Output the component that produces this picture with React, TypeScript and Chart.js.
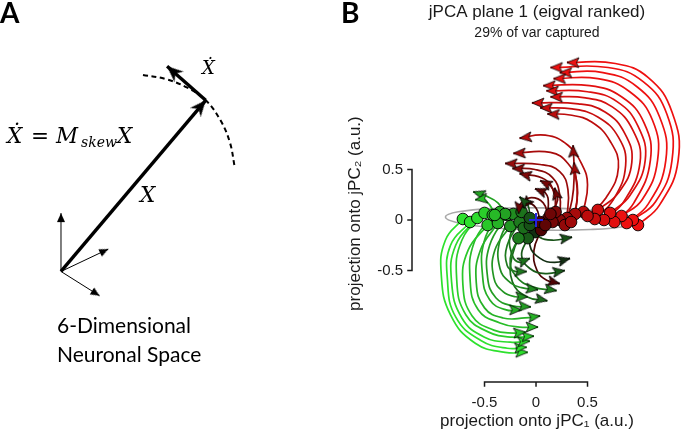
import React, { useEffect, useRef } from 'react';
import { Chart, registerables } from 'chart.js';

Chart.register(...registerables);
Chart.defaults.font.family = '"Liberation Sans", Arial, sans-serif';

type Pt = [number, number];

// ---------------- Panel B : jPCA plane 1 (projection values, a.u.) ----------------
const TITLE = 'jPCA plane 1 (eigval ranked)';
const SUBTITLE = '29% of var captured';
const X_TITLE = 'projection onto jPC\u2081 (a.u.)';
const Y_TITLE = 'projection onto jPC\u2082 (a.u.)';
const X_TICKS = [-0.5, 0, 0.5];
const Y_TICKS = [-0.5, 0, 0.5];
const X_TICK_LABELS = ['-0.5', '0', '0.5'];
const Y_TICK_LABELS = ['-0.5', '0', '0.5'];

const RED_ARCS: Pt[][] = [
  [[0.99, -0.05], [1.2, 0.15], [1.38, 0.59], [1.32, 1.07], [1.09, 1.41], [0.77, 1.55], [0.3, 1.56]],
  [[0.94, 0.0], [1.16, 0.18], [1.32, 0.59], [1.27, 1.05], [1.04, 1.37], [0.7, 1.51], [0.14, 1.51]],
  [[0.88, -0.03], [1.09, 0.16], [1.26, 0.59], [1.2, 1.02], [0.98, 1.32], [0.65, 1.46], [0.23, 1.46]],
  [[0.83, 0.04], [1.03, 0.2], [1.18, 0.59], [1.13, 0.99], [0.91, 1.27], [0.6, 1.4], [0.17, 1.4]],
  [[0.76, -0.02], [0.95, 0.17], [1.11, 0.59], [1.05, 0.96], [0.83, 1.22], [0.52, 1.33], [0.07, 1.33]],
  [[0.72, 0.07], [0.91, 0.24], [1.06, 0.59], [0.99, 0.93], [0.79, 1.17], [0.5, 1.27], [0.1, 1.28]],
  [[0.66, 0.0], [0.85, 0.18], [1.01, 0.57], [0.94, 0.89], [0.74, 1.12], [0.48, 1.21], [0.14, 1.22]],
  [[0.6, 0.1], [0.8, 0.27], [0.93, 0.57], [0.86, 0.86], [0.67, 1.07], [0.41, 1.15], [-0.04, 1.16]],
  [[0.57, 0.01], [0.75, 0.2], [0.87, 0.54], [0.8, 0.82], [0.6, 1.02], [0.35, 1.1], [0.04, 1.11]],
  [[0.5, 0.04], [0.68, 0.22], [0.8, 0.52], [0.72, 0.78], [0.54, 0.97], [0.33, 1.04], [0.11, 1.05]],
];

const DARK_RED_ARCS: Pt[][] = [
  [[0.46, 0.08], [0.5, 0.35], [0.45, 0.54], [0.31, 0.74], [0.09, 0.84], [-0.16, 0.81]],
  [[0.38, 0.06], [0.4, 0.35], [0.31, 0.56], [0.14, 0.67], [-0.22, 0.66]],
  [[0.3, 0.02], [0.31, 0.3], [0.23, 0.48], [0.04, 0.55], [-0.3, 0.56]],
  [[0.23, 0.0], [0.23, 0.25], [0.16, 0.42], [-0.01, 0.5], [-0.23, 0.51]],
  [[0.19, 0.08], [0.18, 0.25], [0.09, 0.4], [-0.16, 0.46]],
  [[0.16, -0.02], [0.19, 0.2], [0.14, 0.34], [0.04, 0.39]],
  [[0.09, -0.05], [0.12, 0.15], [0.09, 0.27], [-0.01, 0.31]],
  [[0.14, 0.06], [0.21, 0.2], [0.18, 0.32]],
  [[0.28, -0.05], [0.35, 0.2], [0.37, 0.45], [0.36, 0.74]],
  [[0.34, -0.02], [0.4, 0.2], [0.37, 0.57]],
];

const CENTER_LOOPS: Pt[][] = [
  [[0.12, 0.02], [0.07, 0.17], [-0.06, 0.22], [-0.16, 0.15], [-0.17, 0.06]],
  [[0.04, -0.02], [0.0, 0.12], [-0.09, 0.17], [-0.13, 0.12]],
  [[-0.06, 0.02], [-0.08, 0.15], [-0.16, 0.23]],
];

const DARK_DOWN: Pt[][] = [
  [[-0.01, -0.12], [-0.06, -0.25], [0.04, -0.38], [0.18, -0.42], [0.33, -0.38]],
  [[-0.08, -0.18], [-0.14, -0.35], [-0.06, -0.48], [0.09, -0.53], [0.28, -0.5]],
  [[0.05, -0.1], [-0.02, -0.3], [0.01, -0.5], [0.11, -0.6], [0.23, -0.63]],
  [[-0.17, -0.18], [-0.25, -0.38], [-0.2, -0.55], [-0.04, -0.66], [0.2, -0.7]],
  [[-0.12, -0.08], [-0.23, -0.35], [-0.23, -0.61], [-0.09, -0.76], [0.11, -0.8]],
  [[-0.06, -0.05], [0.02, -0.16], [0.16, -0.2], [0.35, -0.17]],
];

const GREEN_ARCS: Pt[][] = [
  [[-0.71, 0.01], [-0.88, -0.2], [-0.92, -0.54], [-0.83, -0.94], [-0.59, -1.22], [-0.3, -1.31], [-0.08, -1.31]],
  [[-0.64, -0.02], [-0.83, -0.25], [-0.86, -0.59], [-0.78, -0.96], [-0.54, -1.19], [-0.28, -1.27], [-0.09, -1.26]],
  [[-0.57, 0.02], [-0.78, -0.25], [-0.82, -0.61], [-0.72, -0.97], [-0.5, -1.16], [-0.25, -1.21], [-0.06, -1.2]],
  [[-0.5, 0.07], [-0.72, -0.2], [-0.77, -0.59], [-0.68, -0.94], [-0.46, -1.11], [-0.23, -1.16], [-0.02, -1.15]],
  [[-0.47, -0.05], [-0.66, -0.3], [-0.71, -0.64], [-0.62, -0.95], [-0.41, -1.09], [-0.22, -1.12], [-0.1, -1.11]],
  [[-0.42, 0.05], [-0.6, -0.22], [-0.64, -0.59], [-0.56, -0.89], [-0.35, -1.02], [-0.16, -1.06], [0.02, -1.06]],
  [[-0.37, -0.03], [-0.54, -0.3], [-0.58, -0.62], [-0.5, -0.87], [-0.32, -0.97], [-0.11, -0.97], [0.04, -0.95]],
  [[-0.35, 0.08], [-0.5, -0.2], [-0.52, -0.54], [-0.45, -0.79], [-0.29, -0.89], [-0.14, -0.89]],
  [[-0.28, 0.05], [-0.45, -0.25], [-0.47, -0.57], [-0.39, -0.77], [-0.23, -0.85], [-0.05, -0.86]],
  [[-0.25, -0.06], [-0.4, -0.3], [-0.41, -0.57], [-0.32, -0.71], [-0.2, -0.76], [-0.08, -0.76]],
  [[-0.22, 0.06], [-0.35, -0.2], [-0.35, -0.48], [-0.25, -0.62], [-0.14, -0.67], [0.02, -0.69]],
  [[-0.16, -0.02], [-0.28, -0.25], [-0.28, -0.45], [-0.2, -0.51], [-0.09, -0.51]],
  [[-0.14, 0.08], [-0.25, -0.15], [-0.23, -0.35], [-0.16, -0.42], [-0.06, -0.38]],
];

const GREEN_UP: Pt[][] = [
  [[-0.3, 0.06], [-0.37, 0.17], [-0.49, 0.24], [-0.61, 0.28]],
  [[-0.4, 0.05], [-0.45, 0.15], [-0.52, 0.21], [-0.59, 0.2]],
];

const REF_ELLIPSE: Pt[] = [
  [1.0, -0.01], [0.874, 0.049], [0.53, 0.096], [0.06, 0.12], [-0.41, 0.114], [-0.754, 0.081],
  [-0.88, 0.029], [-0.754, -0.029], [-0.41, -0.076], [0.06, -0.1], [0.53, -0.094], [0.874, -0.061], [1.0, -0.01],
];
const ORIGIN_MARK: Pt[] = [[0, 0]];

// ---------------- Panel A : schematic (diagram units) ----------------
const BASIS_ORIGIN: Pt = [0, 0];
const BASIS_TIPS: Pt[] = [[0, 0.6], [0.49, 0.23], [0.4, -0.25]];
const STATE_TIP: Pt = [1.5, 1.76];
const VELOCITY_TIP: Pt = [1.1, 2.11];
const FLOW_ARC: Pt[] = [[0.85, 2.02], [1.08, 1.98], [1.31, 1.89], [1.5, 1.76], [1.65, 1.56], [1.75, 1.33], [1.8, 1.08]];

// ---------------- helpers ----------------
const toXY = (p: Pt) => ({ x: p[0], y: p[1] });

function conditionColor(x0: number): string {
  if (x0 >= 0) {
    const s = Math.sqrt(Math.min(1, x0 / 0.85));
    return `rgb(${Math.round(25 + 213 * s)},${Math.round(16 * s)},${Math.round(16 * s)})`;
  }
  const s = Math.pow(Math.min(1, -x0 / 0.6), 0.55);
  return `rgb(${Math.round(15 + 30 * s)},${Math.round(25 + 200 * s)},${Math.round(15 + 30 * s)})`;
}

function makeHead(fill: string, len: number, halfW: number, notch: number, lw: number): HTMLCanvasElement {
  const size = Math.ceil(len + 4) * 2;
  const c = document.createElement('canvas');
  c.width = size;
  c.height = size;
  const g = c.getContext('2d')!;
  const cx = size / 2;
  const cy = size / 2;
  g.beginPath();
  g.moveTo(cx, cy);
  g.lineTo(cx + halfW, cy + len);
  g.lineTo(cx, cy + len - notch);
  g.lineTo(cx - halfW, cy + len);
  g.closePath();
  g.fillStyle = fill;
  g.fill();
  if (lw > 0) {
    g.lineWidth = lw;
    g.strokeStyle = '#000';
    g.lineJoin = 'miter';
    g.stroke();
  }
  return c;
}

function heading(chart: any, a: Pt, b: Pt): number {
  const sx = chart.scales.x;
  const sy = chart.scales.y;
  const dx = sx.getPixelForValue(b[0]) - sx.getPixelForValue(a[0]);
  const dy = sy.getPixelForValue(b[1]) - sy.getPixelForValue(a[1]);
  return (Math.atan2(dx, -dy) * 180) / Math.PI;
}

const detachedAxes = {
  id: 'detachedAxes',
  afterDraw(chart: any) {
    const { ctx, chartArea } = chart;
    const sx = chart.scales.x;
    const sy = chart.scales.y;
    const by = chartArea.bottom;
    const lx = chartArea.left;
    ctx.save();
    ctx.strokeStyle = '#1a1a1a';
    ctx.lineWidth = 1.5;
    ctx.lineCap = 'square';
    ctx.beginPath();
    ctx.moveTo(sx.getPixelForValue(X_TICKS[0]), by);
    ctx.lineTo(sx.getPixelForValue(X_TICKS[X_TICKS.length - 1]), by);
    X_TICKS.forEach((v) => {
      const p = sx.getPixelForValue(v);
      ctx.moveTo(p, by);
      ctx.lineTo(p, by + 4);
    });
    ctx.moveTo(lx, sy.getPixelForValue(Y_TICKS[0]));
    ctx.lineTo(lx, sy.getPixelForValue(Y_TICKS[Y_TICKS.length - 1]));
    Y_TICKS.forEach((v) => {
      const p = sy.getPixelForValue(v);
      ctx.moveTo(lx, p);
      ctx.lineTo(lx - 4, p);
    });
    ctx.stroke();
    ctx.restore();
  },
};

function buildPanelB(): any {
  const trajectories: Pt[][] = [...GREEN_ARCS, ...GREEN_UP, ...DARK_DOWN, ...CENTER_LOOPS, ...DARK_RED_ARCS, ...RED_ARCS];
  const colors = trajectories.map((t) => conditionColor(t[0][0]));
  const heads = colors.map((c) => makeHead(c, 12, 5, 2.5, 0.8));

  const lineSets = trajectories.map((t, i) => ({
    data: t.map(toXY),
    showLine: true,
    borderColor: colors[i],
    borderWidth: 1.7,
    tension: 0.45,
    pointRadius: 0,
    clip: false,
    order: 5,
  }));

  return {
    type: 'scatter',
    data: {
      datasets: [
        {
          data: REF_ELLIPSE.map(toXY),
          showLine: true,
          borderColor: '#a9a9a9',
          borderWidth: 1.6,
          tension: 0.4,
          pointRadius: 0,
          clip: false,
          order: 10,
        },
        ...lineSets,
        {
          data: trajectories.map((t) => toXY(t[0])),
          pointRadius: 5.8,
          pointBackgroundColor: colors,
          pointBorderColor: '#000',
          pointBorderWidth: 0.9,
          clip: false,
          order: 2,
        },
        {
          data: trajectories.map((t) => toXY(t[t.length - 1])),
          pointRadius: 5,
          pointStyle: (c: any) => heads[c.dataIndex],
          pointRotation: (c: any) => {
            const t = trajectories[c.dataIndex];
            return heading(c.chart, t[t.length - 2], t[t.length - 1]);
          },
          clip: false,
          order: 1,
        },
        {
          data: ORIGIN_MARK.map(toXY),
          pointStyle: 'cross',
          pointRadius: 7,
          pointBorderColor: 'rgb(35,35,225)',
          pointBorderWidth: 2,
          clip: false,
          order: 0,
        },
      ],
    },
    options: {
      responsive: false,
      animation: false,
      devicePixelRatio: 1,
      events: [],
      layout: { padding: { left: 0, right: 23, top: 0, bottom: 0 } },
      plugins: {
        legend: { display: false },
        tooltip: { enabled: false },
        title: {
          display: true,
          text: TITLE,
          fullSize: false,
          color: '#1a1a1a',
          font: { size: 17, weight: 'normal' },
          padding: { top: 2, bottom: 0 },
        },
        subtitle: {
          display: true,
          text: SUBTITLE,
          fullSize: false,
          color: '#1a1a1a',
          font: { size: 14, weight: 'normal' },
          padding: { top: 2, bottom: 4 },
        },
      },
      scales: {
        x: {
          type: 'linear',
          min: -1.204,
          max: 1.223,
          grid: { display: false, drawTicks: false },
          border: { display: false },
          afterBuildTicks: (s: any) => {
            s.ticks = X_TICKS.map((v) => ({ value: v }));
          },
          afterFit: (s: any) => {
            s.height = 53;
          },
          ticks: {
            color: '#1a1a1a',
            font: { size: 15 },
            padding: 12,
            maxRotation: 0,
            autoSkip: false,
            callback: (_v: any, i: number) => X_TICK_LABELS[i],
          },
          title: { display: true, text: X_TITLE, color: '#1a1a1a', font: { size: 17 }, padding: { top: 0, bottom: 3 } },
        },
        y: {
          type: 'linear',
          min: -1.604,
          max: 1.731,
          grid: { display: false, drawTicks: false },
          border: { display: false },
          afterBuildTicks: (s: any) => {
            s.ticks = Y_TICKS.map((v) => ({ value: v }));
          },
          afterFit: (s: any) => {
            s.width = 72;
          },
          ticks: {
            color: '#1a1a1a',
            font: { size: 15 },
            padding: 9,
            autoSkip: false,
            callback: (_v: any, i: number) => Y_TICK_LABELS[i],
          },
          title: { display: true, text: Y_TITLE, color: '#1a1a1a', font: { size: 17 }, padding: { top: 5, bottom: 0 } },
        },
      },
    },
    plugins: [detachedAxes],
  };
}

function buildPanelA(): any {
  const thinHead = makeHead('#000', 9, 4, 0, 0);
  const thickHead = makeHead('#000', 16, 7, 5, 0);
  const arrows: { from: Pt; to: Pt; head: HTMLCanvasElement }[] = [
    ...BASIS_TIPS.map((t) => ({ from: BASIS_ORIGIN, to: t, head: thinHead })),
    { from: BASIS_ORIGIN, to: STATE_TIP, head: thickHead },
    { from: STATE_TIP, to: VELOCITY_TIP, head: thickHead },
  ];
  const shafts = arrows.map((a, i) => ({
    data: [toXY(a.from), toXY(a.to)],
    showLine: true,
    borderColor: '#000',
    borderWidth: i < BASIS_TIPS.length ? 1 : 3.4,
    pointRadius: 0,
    order: 3,
  }));
  return {
    type: 'scatter',
    data: {
      datasets: [
        {
          data: FLOW_ARC.map(toXY),
          showLine: true,
          borderColor: '#000',
          borderWidth: 2,
          borderDash: [5, 3.5],
          tension: 0.4,
          pointRadius: 0,
          order: 4,
        },
        ...shafts,
        {
          data: arrows.map((a) => toXY(a.to)),
          pointRadius: 5,
          pointStyle: (c: any) => arrows[c.dataIndex].head,
          pointRotation: (c: any) => heading(c.chart, arrows[c.dataIndex].from, arrows[c.dataIndex].to),
          order: 1,
        },
      ],
    },
    options: {
      responsive: false,
      animation: false,
      devicePixelRatio: 1,
      events: [],
      layout: { padding: 0 },
      plugins: { legend: { display: false }, tooltip: { enabled: false } },
      scales: {
        x: { type: 'linear', display: false, min: -0.57, max: 2.83 },
        y: { type: 'linear', display: false, min: -1.62, max: 2.73 },
      },
    },
  };
}

const MATH = '"DejaVu Serif", "Liberation Serif", serif';
const SANS = 'Lato, "Open Sans", sans-serif';

function Txt(props: { left: number; top: number; size: number; family: string; italic?: boolean; bold?: boolean; children: React.ReactNode }) {
  return (
    <div
      style={{
        position: 'absolute',
        left: props.left,
        top: props.top,
        fontSize: props.size,
        lineHeight: 1,
        fontFamily: props.family,
        fontStyle: props.italic ? 'italic' : 'normal',
        fontWeight: props.bold ? 700 : 400,
        whiteSpace: 'nowrap',
        color: '#000',
      }}
    >
      {props.children}
    </div>
  );
}

export default function App() {
  const refA = useRef<HTMLCanvasElement>(null);
  const refB = useRef<HTMLCanvasElement>(null);
  useEffect(() => {
    const a = new Chart(refA.current!, buildPanelA());
    const b = new Chart(refB.current!, buildPanelB());
    return () => {
      a.destroy();
      b.destroy();
    };
  }, []);
  return (
    <div style={{ position: 'absolute', left: 0, top: 0, width: 685, height: 435, background: '#fff', overflow: 'hidden' }}>
      <canvas ref={refA} width={340} height={435} style={{ position: 'absolute', left: 0, top: 0 }} />
      <canvas ref={refB} width={345} height={435} style={{ position: 'absolute', left: 340, top: 0 }} />
      <Txt left={0} top={-2} size={28} family={SANS} bold>A</Txt>
      <Txt left={341} top={-2} size={28} family={SANS} bold>B</Txt>
      <Txt left={202} top={59} size={18} family={MATH} italic>{'\u1E8A'}</Txt>
      <Txt left={140} top={184} size={21.5} family={MATH} italic>X</Txt>
      <Txt left={7} top={125} size={21.5} family={MATH} italic>{'\u1E8A'}</Txt>
      <Txt left={31} top={125} size={21.5} family={MATH}>=</Txt>
      <Txt left={56} top={125} size={21.5} family={MATH} italic>M</Txt>
      <Txt left={81} top={135} size={14} family={MATH} italic>skew</Txt>
      <Txt left={117} top={125} size={21.5} family={MATH} italic>X</Txt>
      <Txt left={57} top={314} size={21} family={SANS}>6-Dimensional</Txt>
      <Txt left={57} top={343} size={21} family={SANS}>Neuronal Space</Txt>
    </div>
  );
}
